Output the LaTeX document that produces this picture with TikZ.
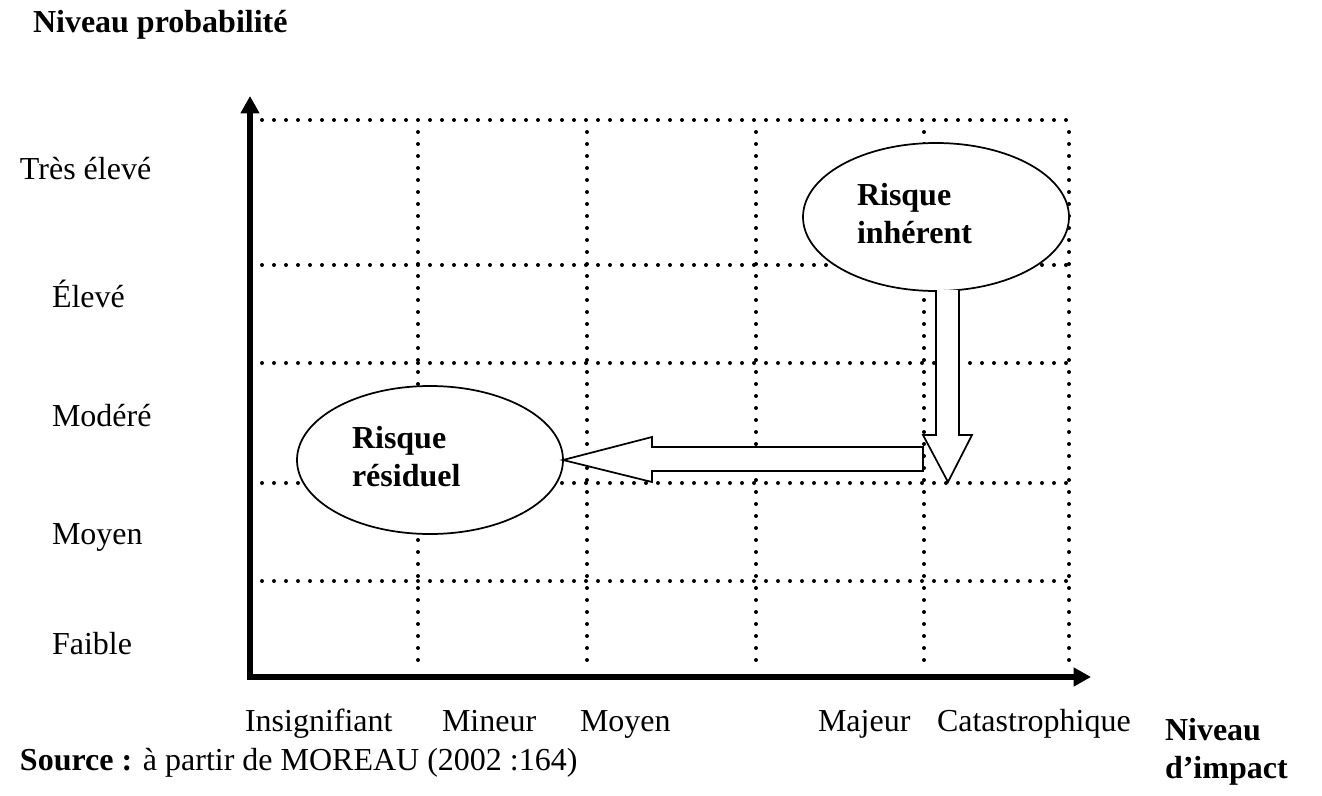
\documentclass[tikz,border=0pt]{standalone}
\usepackage{fontspec}
\setmainfont{Liberation Serif}
\usetikzlibrary{arrows.meta,shapes.geometric,calc}
\begin{document}
\begin{tikzpicture}[x=0.75pt,y=-0.75pt,
  every node/.style={font=\fontsize{24}{28.5}\selectfont, inner sep=0pt, outer sep=0pt},
  lbl/.style={anchor=base west},
  boldlbl/.style={anchor=west, align=left, font=\fontsize{24}{28.5}\selectfont\bfseries},
  axisline/.style={line width=4.4pt, line join=miter,
    {Triangle[length=13pt,width=13.5pt]}-{Triangle[length=13pt,width=13.5pt]}},
  gridline/.style={line width=3pt, line cap=round, dash pattern=on 0pt off 9pt},
  riskell/.style={ellipse, draw, line width=1.3pt, fill=white,
    minimum width=199.5pt, minimum height=111pt},
  blockarrow/.style={draw, line width=1.3pt, fill=white, line join=miter}
]
\useasboundingbox (0,0) rectangle (1322,796);

% title
\node[boldlbl] (title) at (33,25) {Niveau probabilité};

% grid
\foreach \yy in {120,265,363,483,581} {
  \draw[gridline] (262,\yy) -- (1069,\yy);
}
\foreach \xx in {418,587,756,924,1069} {
  \draw[gridline] (\xx,132) -- (\xx,670);
}

% axes
\coordinate (O) at (250,677);
\coordinate (ytip) at (250,96);
\coordinate (xtip) at (1091,677);
\draw[axisline] (ytip) -- (O) -- (xtip);

% y labels
\node[lbl] (l5) at (20,179) {Très élevé};
\node[lbl] (l4) at (52,307) {Élevé};
\node[lbl] (l3) at (52,426) {Modéré};
\node[lbl] (l2) at (52,544) {Moyen};
\node[lbl] (l1) at (52,654) {Faible};

% x labels
\node[lbl] (c1) at (245,731) {Insignifiant};
\node[lbl] (c2) at (442,731) {Mineur};
\node[lbl] (c3) at (580,731) {Moyen};
\node[lbl] (c4) at (818,731) {Majeur};
\node[lbl] (c5) at (937,731) {Catastrophique};
\node[boldlbl] (xt) at (1165,752) {Niveau\\d’impact};

% source
\node[lbl] (src) at (20,770) {\textbf{Source :} à partir de MOREAU (2002 :164)};

% ellipses
\node[riskell] (inh) at (936,217) {};
\node[boldlbl] (inhT) at (857,214) {Risque\\inhérent};
\node[riskell] (res) at (430,460) {};
\node[boldlbl] (resT) at (352,457) {Risque\\résiduel};

% vertical block arrow
\coordinate (vtip) at (948,482);
\filldraw[blockarrow] (936,290) -- (936,435) -- (923,435) -- (vtip) -- (972,435) -- (959,435) -- (959,290);

% horizontal block arrow
\filldraw[blockarrow] (res.east) -- (652,437) -- (652,447) -- (923,447) -- (923,471) -- (652,471) -- (652,482) -- cycle;
\end{tikzpicture}
\end{document}
